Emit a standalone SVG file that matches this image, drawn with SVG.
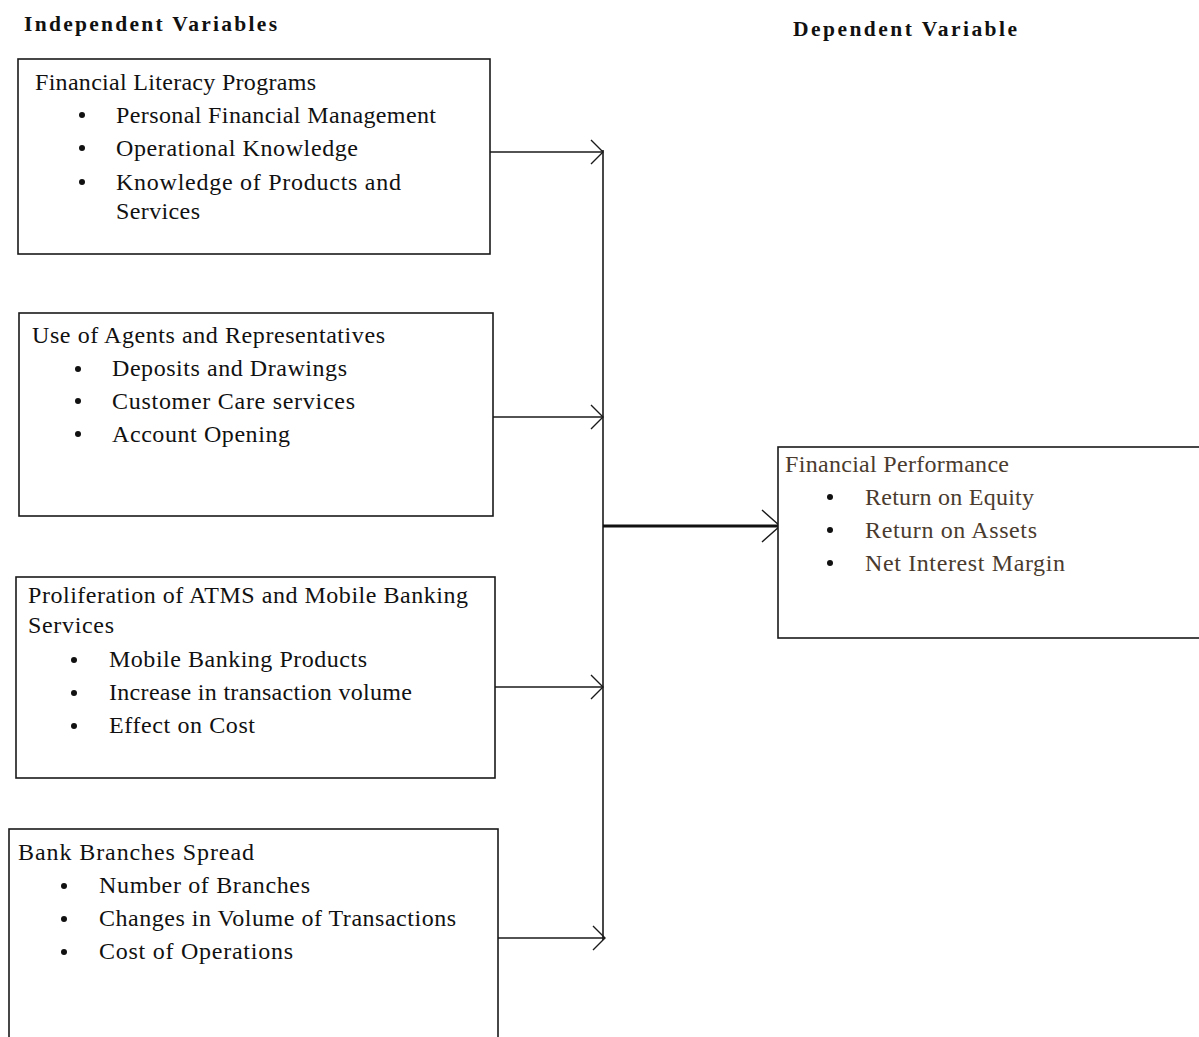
<svg xmlns="http://www.w3.org/2000/svg" width="1199" height="1037" viewBox="0 0 1199 1037">
<style>
.box{fill:#fff;stroke:#1a1a1a;stroke-width:1.6}
.t{font-family:"Liberation Serif","Times New Roman",serif;font-size:24px;fill:#111}
.d{fill:#4a3b2e}
.h{font-family:"Liberation Serif","Times New Roman",serif;font-size:21.5px;font-weight:bold;fill:#111}
.ln{stroke:#1a1a1a;stroke-width:1.6;fill:none}
.bl{fill:#111}
</style>
<defs>
<marker id="chev" markerWidth="16" markerHeight="28" refX="13" refY="13" orient="auto" markerUnits="userSpaceOnUse">
<path d="M1,1 L13,13 L1,25" fill="none" stroke="#1a1a1a" stroke-width="1.4"/>
</marker>
<marker id="chev2" markerWidth="22" markerHeight="36" refX="19" refY="17" orient="auto" markerUnits="userSpaceOnUse">
<path d="M1,1 L19,17 L1,33" fill="none" stroke="#1a1a1a" stroke-width="1.4"/>
</marker>
</defs>
<rect width="1199" height="1037" fill="#fff"/>
<text class="h" x="24" y="31" textLength="253">Independent Variables</text>
<text class="h" x="793" y="36" textLength="224">Dependent Variable</text>

<g id="connectors">
<line class="ln" x1="603" y1="150" x2="603" y2="940"/>
<line class="ln" x1="490" y1="152" x2="603" y2="152" marker-end="url(#chev)"/>
<line class="ln" x1="493" y1="417" x2="603" y2="417" marker-end="url(#chev)"/>
<line class="ln" x1="495" y1="687" x2="603" y2="687" marker-end="url(#chev)"/>
<line class="ln" x1="498" y1="938" x2="605" y2="938" marker-end="url(#chev)"/>
<line x1="603" y1="526" x2="780" y2="526" stroke="#111" stroke-width="3.2" marker-end="url(#chev2)"/>
</g>

<g id="node-financial-literacy">
<rect class="box" x="18" y="59" width="472" height="195"/>
<text class="t" x="35" y="90" textLength="281">Financial Literacy Programs</text>
<circle class="bl" cx="82" cy="115" r="3"/>
<text class="t" x="116" y="123" textLength="320">Personal Financial Management</text>
<circle class="bl" cx="82" cy="148" r="3"/>
<text class="t" x="116" y="156" textLength="242">Operational Knowledge</text>
<circle class="bl" cx="82" cy="182" r="3"/>
<text class="t" x="116" y="190" textLength="285">Knowledge of Products and</text>
<text class="t" x="116" y="219" textLength="84">Services</text>
</g>

<g id="node-agents">
<rect class="box" x="19" y="313" width="474" height="203"/>
<text class="t" x="32" y="343" textLength="353">Use of Agents and Representatives</text>
<circle class="bl" cx="78" cy="369" r="3"/>
<text class="t" x="112" y="376" textLength="235">Deposits and Drawings</text>
<circle class="bl" cx="78" cy="401" r="3"/>
<text class="t" x="112" y="409" textLength="243">Customer Care services</text>
<circle class="bl" cx="78" cy="434" r="3"/>
<text class="t" x="112" y="442" textLength="178">Account Opening</text>
</g>

<g id="node-atms">
<rect class="box" x="16" y="577" width="479" height="201"/>
<text class="t" x="28" y="603" textLength="440">Proliferation of ATMS and Mobile Banking</text>
<text class="t" x="28" y="633" textLength="86">Services</text>
<circle class="bl" cx="74" cy="660" r="3"/>
<text class="t" x="109" y="667" textLength="258">Mobile Banking Products</text>
<circle class="bl" cx="74" cy="693" r="3"/>
<text class="t" x="109" y="700" textLength="303">Increase in transaction volume</text>
<circle class="bl" cx="74" cy="726" r="3"/>
<text class="t" x="109" y="733" textLength="146">Effect on Cost</text>
</g>

<g id="node-branches">
<rect class="box" x="9" y="829" width="489" height="220"/>
<text class="t" x="18" y="860" textLength="236">Bank Branches Spread</text>
<circle class="bl" cx="64" cy="886" r="3"/>
<text class="t" x="99" y="893" textLength="211">Number of Branches</text>
<circle class="bl" cx="64" cy="919" r="3"/>
<text class="t" x="99" y="926" textLength="357">Changes in Volume of Transactions</text>
<circle class="bl" cx="64" cy="952" r="3"/>
<text class="t" x="99" y="959" textLength="194">Cost of Operations</text>
</g>

<g id="node-performance">
<rect class="box" x="778" y="447" width="440" height="191"/>
<text class="t d" x="785" y="472" textLength="224">Financial Performance</text>
<circle class="bl d" cx="830" cy="497" r="3"/>
<text class="t d" x="865" y="505" textLength="169">Return on Equity</text>
<circle class="bl d" cx="830" cy="530" r="3"/>
<text class="t d" x="865" y="538" textLength="172">Return on Assets</text>
<circle class="bl d" cx="830" cy="563" r="3"/>
<text class="t d" x="865" y="571" textLength="200">Net Interest Margin</text>
</g>
</svg>
